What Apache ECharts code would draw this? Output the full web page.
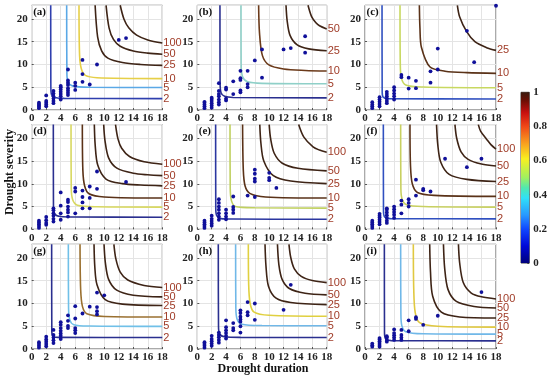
<!DOCTYPE html>
<html><head><meta charset="utf-8">
<script src="https://cdn.jsdelivr.net/npm/echarts@6/dist/echarts.min.js"></script>
<style>html,body{margin:0;padding:0;background:#fff}#c{width:550px;height:381px}</style>
</head><body><div id="c"></div>
<script>
// ---------- DATA ----------
const panelNames = ['(a)','(b)','(c)','(d)','(e)','(f)','(g)','(h)','(i)'];
const returnPeriods = ['2','5','10','25','50','100'];
const xTicks = [0,2,4,6,8,10,12,14,16,18];
const yTicks = [0,5,10,15,20];
const cbTicks = [0,0.2,0.4,0.6,0.8,1];

const scatter_a = [[1,0.4],[1,0.7],[1,1.0],[1,1.3],[1,1.6],[2,0.8],[2,1.2],[2,1.6],[2,2.0],[2,3.2],[3,1.5],[3,2.0],[3,2.5],[3,3.0],[3,3.6],[3,4.2],[4,2.3],[4,3.0],[4,3.5],[4,4.0],[4,4.5],[4,5.0],[4,5.3],[5,3.3],[5,3.8],[5,4.3],[5,4.8],[5,5.5],[5,6.0],[5,6.5],[5,8.9],[6,6.0],[6,5.3],[6,4.4],[7,11.0],[7,7.9],[7,6.2],[8,5.6],[9,10.0],[12,15.4],[13,15.8]];
const scatter_b = [[1,0.4],[1,0.8],[1,1.2],[1,1.6],[1,1.8],[2,0.5],[2,1.0],[2,1.5],[2,2.0],[2,2.4],[2,2.7],[3,1.2],[3,1.7],[3,2.3],[3,3.0],[3,3.5],[3,4.2],[3,5.9],[4,2.1],[4,2.5],[4,4.5],[4,4.9],[5,6.3],[5,3.5],[6,8.6],[6,7.0],[6,6.6],[6,4.3],[6,3.9],[7,8.6],[7,5.7],[7,5.0],[8,10.9],[9,13.3],[9,7.1],[12,13.3],[13,13.6],[15,16.2],[15,12.6]];
const scatter_c = [[1,0.4],[1,0.8],[1,1.2],[1,1.7],[2,0.8],[2,1.3],[2,1.8],[2,2.3],[2,2.8],[3,1.5],[3,2.0],[3,2.5],[3,3.0],[3,3.5],[3,4.0],[4,2.3],[4,3.0],[4,3.6],[4,4.3],[4,5.0],[5,7.7],[5,7.2],[6,7.1],[6,4.7],[7,6.4],[7,4.8],[9,8.5],[9,6.0],[10,13.5],[10,8.9],[14,17.4],[15,10.5],[18,22.9]];
const scatter_d = [[1,0.3],[1,0.7],[1,1.1],[1,1.5],[1,1.9],[2,1.0],[2,1.4],[2,2.0],[2,2.7],[3,1.7],[3,2.3],[3,3.0],[3,3.5],[3,4.2],[3,4.6],[4,8.1],[4,5.2],[4,3.5],[4,2.1],[5,6.5],[5,6.0],[5,5.0],[5,4.3],[5,3.7],[5,2.8],[6,9.1],[6,8.3],[6,3.5],[7,8.5],[7,7.1],[7,5.9],[7,4.6],[8,9.4],[8,6.9],[8,4.6],[9,12.7],[9,8.9],[13,10.4]];
const scatter_e = [[1,0.3],[1,0.7],[1,1.1],[1,1.5],[1,1.9],[2,0.8],[2,1.3],[2,1.8],[2,2.3],[2,3.0],[3,6.6],[3,5.8],[3,5.0],[3,4.3],[3,3.5],[3,2.8],[3,2.1],[4,4.3],[4,3.5],[4,2.8],[4,2.2],[5,7.2],[5,4.9],[5,4.3],[5,3.6],[7,7.4],[8,13.1],[8,12.2],[8,11.1],[8,10.5],[8,7.1],[10,12.4],[10,11.3],[10,10.8],[11,9.1]];
const scatter_f = [[1,0.3],[1,0.7],[1,1.1],[1,1.5],[1,1.9],[2,1.1],[2,1.6],[2,2.1],[2,2.6],[2,3.0],[2,3.4],[3,1.4],[3,1.9],[3,2.5],[3,3.1],[3,3.7],[3,4.3],[3,4.6],[4,2.5],[4,3.2],[4,3.8],[4,4.4],[4,5.0],[5,6.3],[5,5.4],[5,3.5],[6,6.6],[6,5.8],[6,5.0],[7,10.9],[7,7.4],[8,8.9],[8,8.6],[9,8.3],[11,15.5],[14,13.65],[16,15.5]];
const scatter_g = [[1,0.3],[1,0.7],[1,1.1],[1,1.5],[2,0.6],[2,1.1],[2,1.6],[2,2.1],[2,2.7],[3,4.2],[3,3.1],[3,2.5],[3,1.9],[3,1.3],[4,5.9],[4,5.3],[4,4.6],[4,4.0],[4,3.4],[4,2.9],[4,2.2],[5,7.4],[5,6.2],[5,5.1],[5,4.6],[6,9.4],[6,6.7],[6,4.6],[6,4.1],[6,3.5],[7,7.8],[8,9.3],[9,12.4],[9,9.2],[9,8.3],[9,7.6],[10,11.8]];
const scatter_h = [[1,0.3],[1,0.7],[1,1.1],[1,1.5],[2,0.7],[2,1.2],[2,1.7],[2,2.2],[2,2.9],[3,1.4],[3,2.0],[3,2.6],[3,3.1],[3,3.6],[4,6.3],[4,4.8],[4,4.1],[4,3.5],[4,2.9],[4,2.3],[5,5.7],[5,4.6],[5,4.1],[6,8.5],[6,7.9],[6,7.1],[6,6.5],[6,6.0],[6,5.0],[6,3.6],[7,10.3],[7,8.1],[7,7.4],[8,10.0],[8,6.4],[12,8.6],[13,14.1]];
const scatter_i = [[1,0.5],[1,0.8],[1,1.2],[2,0.5],[2,0.9],[2,1.3],[2,1.7],[2,2.1],[2,2.4],[3,1.6],[3,2.0],[3,2.5],[3,2.8],[4,4.3],[4,3.5],[4,3.0],[4,2.5],[4,2.0],[5,4.2],[5,3.1],[5,2.5],[5,2.0],[6,6.3],[6,3.9],[7,7.0],[7,6.6],[8,5.3],[10,7.3],[16,12.5]];

// return-period isolines, in the order of returnPeriods (null = not inside the axes)
const curves_a = [
 [[2.62,23],[2.64,5],[2.75,3.3],[3.2,2.75],[4.5,2.55],[18,2.5]],
 [[4.82,23],[4.85,8],[5.0,6.2],[5.6,5.3],[8,5.0],[18,4.93]],
 [[6.52,23],[6.6,12],[6.85,9],[7.4,7.6],[9,7.1],[18,6.9]],
 [[8.74,23],[9.09,16],[9.64,13],[10.5,11.4],[12.5,10.42],[15,10.0],[18,9.8]],
 [[10.25,23],[10.67,18],[11.27,15.5],[12.2,14.0],[14,12.97],[16,12.5],[18,12.26]],
 [[12.2,23],[12.71,20],[13.4,18],[14.46,16.46],[16,15.4],[18,14.71]]];
const curves_b = [
 [[3.15,23],[3.17,6],[3.3,3.8],[3.8,3.0],[5,2.75],[18,2.66]],
 [[6.08,23],[6.1,10],[6.3,7.3],[7,6.2],[9,5.85],[18,5.76]],
 [[8.53,23],[8.65,17],[9.05,12],[9.96,9.9],[12,9.01],[15,8.69],[18,8.57]],
 [[12.34,23],[12.5,19.6],[12.9,16.4],[13.9,14.3],[15.5,13.43],[18,13.0]],
 [[15.4,23],[15.9,20.5],[16.5,19.15],[17.0,18.5],[18,17.8]],
 null];
const curves_c = [
 [[2.34,23],[2.36,4],[2.5,2.8],[3.2,2.5],[18,2.42]],
 [[4.81,23],[4.85,10],[5.0,7.0],[5.6,5.5],[8,5.05],[18,4.9]],
 [[7.47,23],[7.55,18],[7.75,13.8],[8.94,9.44],[11,8.53],[14,8.2],[18,8.05]],
 [[12.69,23],[13.0,20.5],[13.97,17.2],[15.1,15.0],[16.7,13.7],[18,13.1]],
 null, null];
const curves_d = [
 [[2.98,23],[3.0,5],[3.2,3.3],[4,2.8],[6,2.7],[18,2.66]],
 [[5.42,23],[5.45,9],[5.65,6.5],[6.3,5.3],[9,4.95],[18,4.87]],
 [[6.98,23],[7.05,13],[7.3,9.5],[7.9,7.8],[10,7.1],[18,6.86]],
 [[8.63,23],[8.75,18.5],[9.1,14.1],[10.24,11.04],[12.5,10.03],[15,9.72],[18,9.55]],
 [[9.92,23],[10.1,19.5],[10.6,15.7],[11.74,13.44],[14,12.31],[16,11.97],[18,11.79]],
 [[11.55,23],[11.9,19.8],[12.4,17.8],[13.48,15.98],[15.5,14.83],[18,14.3]]];
const curves_e = [
 [[2.55,23],[2.57,4.5],[2.7,3.0],[3.3,2.35],[5,2.25],[18,2.2]],
 [[4.55,23],[4.58,9],[4.75,6.3],[5.3,5.0],[8,4.72],[18,4.65]],
 [[6.3,23],[6.4,13],[6.65,9.5],[7.3,7.9],[9.5,7.1],[18,6.86]],
 [[8.69,23],[8.85,18.9],[9.25,15.0],[10.58,11.78],[13,10.6],[18,10.04]],
 [[10.0,23],[10.2,19.9],[10.7,16.7],[11.82,14.52],[14,13.4],[18,12.84]],
 [[14.1,23],[14.8,20.3],[16.1,18.1],[17,17.4],[18,16.92]]];
const curves_f = [
 [[2.52,23],[2.54,4],[2.7,2.7],[3.5,2.35],[18,2.29]],
 [[4.9,23],[4.93,9],[5.1,6.6],[5.7,5.4],[8,5.0],[18,4.87]],
 [[6.18,23],[6.25,14],[6.5,10],[7.2,8.1],[9.5,7.45],[18,7.23]],
 [[9.83,23],[10.0,18.6],[10.4,14.8],[11.57,12.07],[14,10.96],[18,10.5]],
 [[12.36,23],[12.6,20],[13.2,17],[14.17,15.37],[16,14.33],[18,13.9]],
 [[15.57,23],[15.9,21.5],[16.7,19.8],[17.3,18.6],[18,17.6]]];
const curves_g = [
 [[2.75,23],[2.77,4],[2.9,2.8],[3.6,2.55],[18,2.52]],
 [[5.05,23],[5.08,9],[5.25,6.4],[5.8,5.35],[8,5.05],[18,4.96]],
 [[6.66,23],[6.75,13],[7.0,9.3],[7.6,7.75],[10,7.15],[18,7.04]],
 [[8.59,23],[8.7,18],[9.0,14.1],[10.13,10.83],[12.5,9.85],[18,9.56]],
 [[9.97,23],[10.15,19],[10.6,15.3],[11.72,12.92],[14,11.82],[18,11.45]],
 [[11.33,23],[11.6,19.8],[12.2,16.9],[13.25,15.15],[15.5,13.95],[18,13.5]]];
const curves_h = [
 [[2.92,23],[2.95,5],[3.1,3.3],[3.8,2.7],[6,2.55],[18,2.52]],
 [[5.33,23],[5.36,9],[5.55,6.5],[6.2,5.45],[9,5.15],[18,5.1]],
 [[7.1,23],[7.15,14],[7.35,10],[7.9,8.1],[10,7.4],[18,7.19]],
 [[9.42,23],[9.55,18.3],[9.9,13.8],[10.96,11.16],[13,10.22],[18,9.75]],
 [[11.15,23],[11.35,18.5],[11.8,15.3],[12.8,13.3],[15,12.25],[18,11.9]],
 [[12.75,23],[13.0,20.1],[13.5,17.6],[14.46,15.96],[16,15.04],[18,14.58]]];
const curves_i = [
 [[2.66,23],[2.68,3.5],[2.85,2.2],[3.6,1.85],[18,1.78]],
 [[4.9,23],[4.93,8],[5.05,5.2],[5.6,3.8],[8,3.35],[18,3.26]],
 [[6.64,23],[6.7,13],[6.9,8],[7.5,5.8],[10,5.0],[18,4.81]],
 [[8.89,23],[9.0,16.9],[9.3,11.6],[10.49,8.09],[13,7.04],[18,6.8]],
 [[10.78,23],[10.95,17.7],[11.4,13.1],[12.55,10.45],[15,9.33],[18,9.0]],
 [[12.84,23],[13.0,19.0],[13.5,14.6],[14.6,12.3],[16,11.46],[18,11.0]]];

const scatterAll = [scatter_a,scatter_b,scatter_c,scatter_d,scatter_e,scatter_f,scatter_g,scatter_h,scatter_i];
const curvesAll = [curves_a,curves_b,curves_c,curves_d,curves_e,curves_f,curves_g,curves_h,curves_i];

// ---------- STYLE ----------
const DK = '#3e2416';
const curveColors = [
 ['#2f3fae','#5aa8e6','#e6cf48',DK,DK,DK],
 ['#2a2f8f','#8fd0c8','#6b3a1a',DK,DK,DK],
 ['#3050c0','#c8d860','#5a3218',DK,DK,DK],
 ['#2a2f8f','#d8d860','#5a3218',DK,DK,DK],
 ['#2b36a0','#c0d060','#5a3218',DK,DK,DK],
 ['#3050c0','#c8d060','#5a3218',DK,DK,DK],
 ['#2a2f8f','#70c0e8','#9a7030',DK,DK,DK],
 ['#2a2f8f','#70b8e8','#e0d040',DK,DK,DK],
 ['#2a2f8f','#70b8e8','#e0c840',DK,DK,DK]];
const colsPos = [[31.7,130.6],[197.3,129.4],[365,131]];
const rowsPos = [5.3,124.6,244.3];
const rowH = 104.7;
const SERIF = '"Liberation Serif","Times New Roman",serif';
const SANS = '"Liberation Sans",Arial,sans-serif';
const labelColor = '#a03c28';

const chart = echarts.init(document.getElementById('c'), null, {renderer:'canvas'});
const grid=[], xAxis=[], yAxis=[], series=[], graphic=[];
for (let i=0;i<9;i++){
  const c = colsPos[i%3], top = rowsPos[Math.floor(i/3)];
  grid.push({left:c[0], top:top, width:c[1], height:rowH, show:true, borderColor:'#555', borderWidth:1, backgroundColor:'#fff'});
  xAxis.push({gridIndex:i, type:'value', min:xTicks[0], max:xTicks[xTicks.length-1], interval:xTicks[1]-xTicks[0],
    axisLine:{show:false}, axisTick:{show:true, inside:true, length:2, lineStyle:{color:'#555'}},
    axisLabel:{fontFamily:SERIF, fontWeight:'bold', fontSize:11, color:'#222', margin:3},
    splitLine:{show:true, lineStyle:{color:'#e4e4e4', width:1}}});
  yAxis.push({gridIndex:i, type:'value', min:yTicks[0], max:23, interval:yTicks[1]-yTicks[0],
    axisLine:{show:false}, axisTick:{show:true, inside:true, length:2, lineStyle:{color:'#555'}},
    axisLabel:{fontFamily:SERIF, fontWeight:'bold', fontSize:11, color:'#222', margin:4, showMaxLabel:false},
    splitLine:{show:true, lineStyle:{color:'#e4e4e4', width:1}}});
  curvesAll[i].forEach((pts,k)=>{
    if(!pts) return;
    series.push({type:'line', xAxisIndex:i, yAxisIndex:i, data:pts, showSymbol:false, smooth:0.3,
      lineStyle:{color:curveColors[i][k], width:1.6}, silent:true, z:2,
      endLabel:{show:true, formatter:returnPeriods[k], color:labelColor, fontSize:11, fontFamily:SANS, distance:1}});
  });
  series.push({type:'scatter', xAxisIndex:i, yAxisIndex:i, data:scatterAll[i], symbolSize:3.8,
    itemStyle:{color:'#10109a', opacity:1}, z:3, silent:true});
  graphic.push({type:'text', left:c[0]+1.5, top:top+1.5, style:{text:panelNames[i], font:'bold 11px '+SERIF, fill:'#111'}, z:10});
}
// colorbar
grid.push({left:521, top:92.3, width:8.6, height:170.7, show:true, borderColor:'#444', borderWidth:1});
xAxis.push({gridIndex:9, type:'category', data:['cb'], show:false});
yAxis.push({gridIndex:9, type:'value', min:cbTicks[0], max:cbTicks[cbTicks.length-1], interval:cbTicks[1]-cbTicks[0], position:'right',
  axisLine:{show:false}, axisTick:{show:true, inside:true, length:2, lineStyle:{color:'#444'}},
  axisLabel:{fontFamily:SERIF, fontWeight:'bold', fontSize:11, color:'#222', margin:4}, splitLine:{show:false}});
series.push({type:'bar', xAxisIndex:9, yAxisIndex:9, data:[cbTicks[cbTicks.length-1]], barWidth:'100%', silent:true,
  itemStyle:{color:new echarts.graphic.LinearGradient(0,0,0,1,[
    {offset:0,color:'#3a1a0e'},{offset:0.05,color:'#6e0e04'},{offset:0.12,color:'#c81010'},{offset:0.2,color:'#f04818'},
    {offset:0.3,color:'#f8a020'},{offset:0.39,color:'#f8f020'},{offset:0.5,color:'#a0f060'},{offset:0.56,color:'#50e8b0'},
    {offset:0.62,color:'#30e0f8'},{offset:0.72,color:'#2898ff'},{offset:0.8,color:'#1048ff'},{offset:0.9,color:'#0008d8'},{offset:1,color:'#00007c'}])}});
// axis titles
graphic.push({type:'text', x:10, y:172, rotation:Math.PI/2, style:{text:'Drought severity', font:'bold 12px '+SERIF, fill:'#111', align:'center', verticalAlign:'middle'}});
graphic.push({type:'text', x:263, y:369, style:{text:'Drought duration', font:'bold 12px '+SERIF, fill:'#111', align:'center', verticalAlign:'middle'}});

chart.setOption({animation:false, backgroundColor:'#fff', grid, xAxis, yAxis, series, graphic});
</script></body></html>
